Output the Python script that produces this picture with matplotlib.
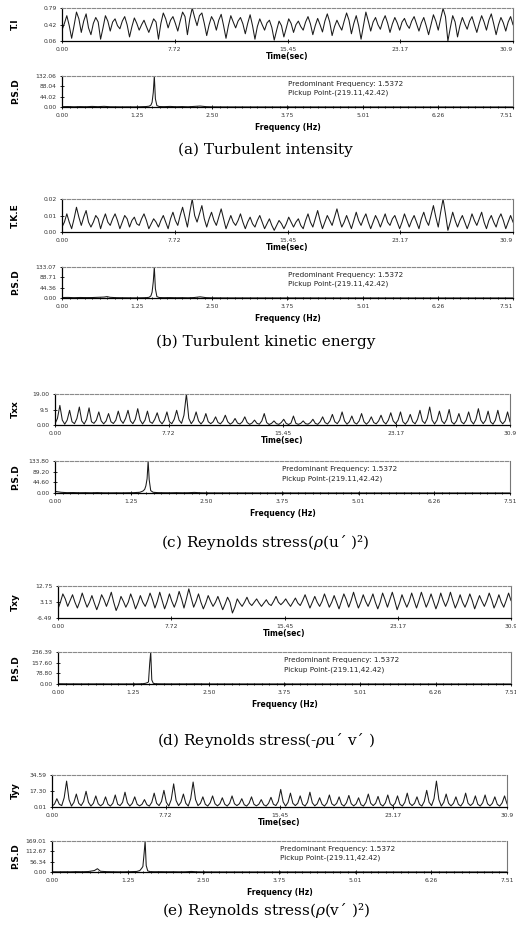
"""
Time series and power spectra at a pickup point: five quantities
(turbulent intensity, TKE and three Reynolds stresses), each with its P.S.D.
"""
import matplotlib.pyplot as plt
import numpy as np
from matplotlib.ticker import MultipleLocator

W, H = 516, 940
plt.rcParams['mathtext.fontset'] = 'dejavuserif'

# shared axes ticks
time_ticks = [0.00, 7.72, 15.45, 23.17, 30.9]
time_ticklabels = ["0.00", "7.72", "15.45", "23.17", "30.9"]
freq_ticks = [0.00, 1.25, 2.50, 3.75, 5.01, 6.26, 7.51]
freq_ticklabels = ["0.00", "1.25", "2.50", "3.75", "5.01", "6.26", "7.51"]

predominant_text = "Predominant Frequency: 1.5372"
pickup_text = "Pickup Point-(219.11,42.42)"

# time series (~4 samples per oscillation)
ti = [0.30, 0.45, 0.62, 0.40, 0.12, 0.40, 0.70, 0.55, 0.25, 0.50, 0.66, 0.35,
      0.20, 0.45, 0.58, 0.48, 0.10, 0.35, 0.62, 0.50, 0.28, 0.48, 0.55, 0.40,
      0.33, 0.50, 0.60, 0.42, 0.15, 0.38, 0.57, 0.45, 0.30, 0.42, 0.52, 0.38,
      0.25, 0.40, 0.55, 0.48, 0.10, 0.45, 0.68, 0.55, 0.35, 0.52, 0.60, 0.45,
      0.28, 0.50, 0.70, 0.60, 0.20, 0.55, 0.79, 0.58, 0.40, 0.62, 0.68, 0.45,
      0.18, 0.42, 0.60, 0.50, 0.30, 0.52, 0.65, 0.40, 0.12, 0.40, 0.62, 0.48,
      0.35, 0.50, 0.58, 0.44, 0.22, 0.45, 0.64, 0.40, 0.10, 0.38, 0.55, 0.42,
      0.30, 0.46, 0.52, 0.36, 0.08, 0.30, 0.50, 0.40, 0.15, 0.35, 0.55, 0.45,
      0.25, 0.42, 0.50, 0.38, 0.30, 0.48, 0.60, 0.44, 0.20, 0.40, 0.56, 0.42,
      0.26, 0.50, 0.66, 0.48, 0.18, 0.38, 0.52, 0.40, 0.30, 0.50, 0.68, 0.52,
      0.22, 0.45, 0.62, 0.40, 0.10, 0.40, 0.70, 0.50, 0.28, 0.48, 0.58, 0.42,
      0.32, 0.50, 0.62, 0.46, 0.25, 0.44, 0.58, 0.46, 0.30, 0.48, 0.56, 0.42,
      0.34, 0.50, 0.60, 0.44, 0.28, 0.46, 0.58, 0.40, 0.20, 0.42, 0.64, 0.50,
      0.30, 0.55, 0.78, 0.60, 0.06, 0.35, 0.62, 0.48, 0.15, 0.40, 0.58, 0.44,
      0.32, 0.50, 0.60, 0.42, 0.25, 0.45, 0.62, 0.48, 0.30, 0.52, 0.66, 0.44,
      0.20, 0.42, 0.58, 0.46, 0.28, 0.48, 0.60, 0.42]

tke = [.003, .006, .011, .006, .002, .008, .015, .009, .004, .009, .013, .006,
       .003, .006, .010, .008, .002, .007, .011, .006, .004, .008, .011, .007,
       .002, .006, .010, .008, .003, .007, .009, .005, .004, .008, .011, .007,
       .002, .005, .008, .006, .003, .007, .010, .006, .002, .008, .012, .007,
       .004, .010, .015, .009, .003, .012, .020, .010, .006, .011, .016, .008,
       .003, .008, .012, .007, .004, .009, .014, .008, .002, .006, .010, .006,
       .004, .007, .011, .006, .002, .006, .009, .005, .003, .007, .010, .006,
       .002, .005, .008, .004, .001, .004, .007, .005, .002, .005, .009, .006,
       .003, .006, .008, .004, .002, .007, .011, .006, .003, .008, .013, .007,
       .002, .006, .010, .007, .004, .009, .014, .008, .003, .006, .010, .006,
       .002, .007, .012, .007, .004, .008, .011, .006, .002, .006, .010, .007,
       .003, .007, .011, .006, .004, .008, .010, .006, .002, .006, .011, .007,
       .003, .007, .010, .006, .002, .008, .012, .007, .004, .010, .016, .009,
       .003, .012, .020, .011, .001, .006, .012, .007, .003, .007, .010, .006,
       .002, .006, .011, .007, .004, .008, .012, .006, .002, .007, .010, .006,
       .003, .008, .011, .007, .002, .006, .010, .006]

txx = [0.8, 4.0, 12.0, 3.0, 0.5, 3.0, 9.0, 2.0, 0.8, 4.0, 11.0, 2.5,
       0.6, 3.5, 10.5, 2.0, 1.0, 3.0, 8.0, 2.5, 0.7, 2.5, 7.0, 2.0,
       0.9, 3.0, 8.5, 3.0, 1.0, 4.0, 9.0, 2.5, 0.8, 3.5, 10.0, 3.0,
       0.6, 3.0, 8.5, 2.0, 1.0, 3.5, 7.5, 2.5, 0.7, 3.0, 8.0, 2.0,
       0.8, 3.5, 9.0, 3.0, 1.0, 6.0, 19.0, 4.0, 0.8, 3.0, 8.0, 2.5,
       0.6, 2.5, 7.0, 2.0, 0.8, 2.0, 5.0, 1.5, 0.7, 2.5, 6.0, 2.0,
       0.5, 1.5, 4.0, 1.2, 0.6, 2.0, 5.0, 1.5, 0.4, 1.2, 3.0, 1.0,
       0.5, 2.5, 7.0, 1.5, 0.3, 1.0, 2.5, 0.8, 0.4, 1.5, 3.5, 1.0,
       0.3, 1.2, 5.5, 1.0, 0.4, 1.0, 2.5, 0.8, 0.5, 1.5, 3.5, 1.0,
       0.4, 2.0, 5.0, 1.5, 0.6, 2.5, 6.5, 2.0, 0.8, 3.0, 8.0, 2.5,
       0.5, 2.0, 5.5, 1.5, 0.6, 2.5, 7.0, 2.0, 0.5, 2.0, 5.0, 1.5,
       0.7, 2.5, 6.0, 2.0, 0.6, 3.0, 7.5, 2.5, 0.8, 3.0, 8.0, 2.0,
       0.5, 2.5, 6.5, 2.0, 0.7, 3.5, 9.0, 2.5, 0.9, 4.0, 11.0, 3.0,
       0.6, 3.0, 8.5, 2.5, 0.8, 3.5, 9.5, 2.0, 0.5, 2.5, 7.0, 2.0,
       0.7, 3.0, 8.0, 2.5, 0.6, 3.5, 10.0, 3.0, 0.8, 3.0, 8.5, 2.0,
       0.5, 3.0, 9.0, 2.5, 0.7, 2.5, 8.0, 2.0]

txy = [-1.0, 3.0, 8.0, 5.0, 0.5, 4.0, 7.5, 3.0, -0.5, 3.5, 8.5, 4.0,
       0.0, 3.0, 7.0, 2.5, -1.5, 2.5, 7.5, 4.5, 0.5, 4.5, 9.0, 3.0,
       -2.0, 1.5, 6.5, 3.5, 0.0, 3.0, 8.0, 4.0, -1.0, 2.5, 7.0, 3.0,
       0.5, 4.0, 8.5, 4.5, -0.5, 3.5, 9.0, 4.0, -1.0, 3.0, 8.0, 3.5,
       0.0, 4.0, 9.5, 5.0, -0.5, 5.0, 11.0, 5.5, 0.0, 3.5, 8.0, 3.0,
       -1.0, 2.5, 7.0, 3.5, 0.5, 3.0, 6.5, 2.5, -1.5, 2.0, 6.0, 3.0,
       -3.5, 0.0, 5.0, 2.5, 0.5, 3.0, 6.0, 2.5, 1.0, 3.0, 5.0, 2.5,
       0.5, 2.5, 4.5, 2.0, 1.0, 3.5, 6.5, 3.0, 1.5, 3.0, 5.0, 2.5,
       0.5, 3.0, 5.5, 2.5, 1.0, 4.0, 7.5, 3.5, -0.5, 3.0, 6.5, 3.0,
       0.5, 3.5, 8.0, 4.0, 0.0, 3.0, 7.0, 3.0, -1.0, 3.5, 8.0, 4.5,
       0.0, 4.0, 9.0, 4.0, -0.5, 3.0, 7.5, 3.5, 0.5, 4.0, 8.0, 3.0,
       -1.0, 3.0, 8.5, 4.5, 0.0, 4.5, 9.0, 4.0, -1.5, 2.5, 7.5, 3.5,
       0.0, 3.5, 8.5, 4.0, -0.5, 4.0, 9.0, 4.5, 0.0, 3.5, 8.0, 3.5,
       -1.0, 3.0, 8.5, 4.0, 0.5, 4.0, 9.0, 4.0, -0.5, 3.0, 7.5, 3.0,
       0.0, 3.5, 8.0, 4.0, -1.0, 3.0, 7.0, 3.5, 0.5, 4.0, 8.5, 4.5,
       -0.5, 3.0, 7.5, 3.0, 0.0, 4.0, 8.5, 4.0]

tyy = [1.0, 3.0, 9.0, 3.0, 1.5, 10.0, 28.0, 8.0, 1.0, 5.0, 14.0, 4.0,
       1.5, 6.0, 17.0, 5.0, 1.0, 4.0, 12.0, 3.5, 1.2, 3.5, 11.0, 3.0,
       1.0, 4.0, 13.0, 3.0, 1.5, 5.0, 16.0, 4.5, 1.0, 4.0, 11.0, 3.0,
       1.2, 3.0, 8.0, 2.5, 1.0, 5.0, 15.0, 4.0, 1.5, 6.0, 18.0, 5.0,
       1.0, 8.0, 25.0, 7.0, 1.5, 5.0, 14.0, 4.0, 1.0, 9.0, 27.0, 8.0,
       1.5, 4.0, 11.0, 3.0, 1.0, 4.5, 12.0, 3.5, 1.2, 3.5, 10.0, 3.0,
       1.0, 4.0, 12.0, 3.5, 1.5, 3.5, 9.0, 2.5, 1.0, 4.0, 11.0, 3.0,
       1.2, 3.0, 8.0, 2.5, 1.0, 4.0, 10.5, 3.0, 1.5, 6.0, 19.0, 5.5,
       1.0, 5.0, 15.0, 4.0, 1.5, 4.0, 12.0, 3.0, 1.0, 5.0, 16.0, 4.5,
       1.2, 3.5, 10.0, 3.0, 1.0, 4.5, 13.0, 3.5, 1.5, 4.0, 11.0, 3.0,
       1.0, 4.5, 12.5, 3.5, 1.2, 3.5, 10.0, 2.5, 1.0, 5.0, 14.0, 4.0,
       1.5, 4.0, 11.5, 3.0, 1.0, 4.5, 13.0, 3.5, 1.2, 4.0, 12.0, 3.0,
       1.0, 5.0, 15.0, 4.0, 1.5, 4.0, 11.0, 3.0, 1.0, 6.0, 18.0, 5.0,
       1.5, 9.0, 28.0, 8.0, 1.0, 5.0, 14.0, 4.0, 1.2, 4.0, 11.0, 3.0,
       1.0, 5.0, 15.0, 4.0, 1.5, 4.0, 12.0, 3.0, 1.0, 4.5, 13.0, 3.5,
       1.2, 4.0, 11.0, 3.0, 1.0, 4.5, 12.0, 3.5]

# power spectral density, sampled densely only around the peak
psd_freq = [0.00, 0.10, 0.20, 0.30, 0.40, 0.50, 0.60, 0.70, 0.75, 0.80, 0.90,
            1.00, 1.10, 1.20, 1.30, 1.40, 1.45, 1.48, 1.50, 1.52, 1.5372,
            1.555, 1.58, 1.62, 1.70, 1.80, 1.90, 2.00, 2.10, 2.20, 2.30, 2.40,
            2.50, 2.75, 3.00, 3.50, 4.00, 4.50, 5.00, 5.50, 6.00, 6.50, 7.00,
            7.51]
psd_ti = [1.5, 2.0, 1.0, 1.8, 1.2, 2.5, 1.5, 2.8, 2.0, 1.2, 1.0,
          0.8, 1.0, 0.6, 1.2, 2.0, 3.5, 8.0, 20.0, 62.0, 132.06,
          35.0, 6.0, 2.0, 1.5, 2.5, 1.2, 1.8, 1.0, 2.5, 4.0, 1.5,
          0.8, 0.5, 0.4, 0.3, 0.3, 0.2, 0.2, 0.2, 0.1, 0.1, 0.1, 0.1]
psd_tke = [2.0, 2.5, 1.5, 2.2, 1.8, 2.0, 3.0, 4.0, 6.0, 3.0, 1.5,
           1.2, 1.0, 0.8, 1.0, 1.5, 3.0, 9.0, 25.0, 70.0, 133.07,
           40.0, 6.0, 2.0, 1.5, 1.8, 1.2, 1.5, 1.0, 2.0, 5.0, 1.5,
           0.8, 0.5, 0.4, 0.3, 0.3, 0.2, 0.2, 0.2, 0.1, 0.1, 0.1, 0.1]
psd_txx = [7.0, 3.0, 1.5, 2.0, 1.2, 1.5, 1.0, 1.8, 1.2, 1.0, 0.8,
           1.0, 0.8, 1.2, 1.5, 3.0, 8.0, 15.0, 30.0, 60.0, 133.80,
           55.0, 10.0, 3.0, 1.5, 1.2, 1.0, 1.5, 1.0, 1.2, 2.5, 1.0,
           0.6, 0.5, 0.4, 0.3, 0.3, 0.2, 0.2, 0.2, 0.1, 0.1, 0.1, 0.1]
psd_txy = [2.0, 1.5, 1.0, 1.2, 0.8, 1.0, 0.8, 1.2, 1.0, 0.8, 0.6,
           0.8, 0.6, 0.8, 1.0, 2.0, 5.0, 10.0, 15.0, 150.0, 236.39,
           30.0, 5.0, 2.0, 1.2, 1.0, 0.8, 1.0, 0.8, 1.0, 1.5, 0.8,
           0.6, 0.5, 0.4, 0.3, 0.3, 0.2, 0.2, 0.2, 0.1, 0.1, 0.1, 0.1]
psd_tyy = [1.5, 1.0, 1.5, 1.2, 2.0, 1.5, 2.5, 8.0, 18.0, 4.0, 2.0,
           1.5, 1.0, 1.2, 2.0, 3.0, 8.0, 20.0, 30.0, 100.0, 169.01,
           35.0, 6.0, 2.0, 1.5, 1.8, 1.2, 1.5, 1.0, 1.2, 3.0, 1.0,
           0.6, 0.5, 0.4, 0.3, 0.3, 0.2, 0.2, 0.2, 0.1, 0.1, 0.1, 0.1]

# y ticks per panel
ti_yticks, ti_ylabels = [0.06, 0.42, 0.79], ["0.06", "0.42", "0.79"]
tke_yticks, tke_ylabels = [0.00, 0.01, 0.02], ["0.00", "0.01", "0.02"]
txx_yticks, txx_ylabels = [0.00, 9.5, 19.00], ["0.00", "9.5", "19.00"]
txy_yticks, txy_ylabels = [-6.49, 3.13, 12.75], ["-6.49", "3.13", "12.75"]
tyy_yticks, tyy_ylabels = [0.01, 17.30, 34.59], ["0.01", "17.30", "34.59"]
psd_ti_ticks = [0.00, 44.02, 88.04, 132.06]
psd_tke_ticks = [0.00, 44.36, 88.71, 133.07]
psd_txx_ticks = [0.00, 44.60, 89.20, 133.80]
psd_txy_ticks = [0.00, 78.80, 157.60, 236.39]
psd_tyy_ticks = [0.00, 56.34, 112.67, 169.01]

captions = ["(a) Turbulent intensity",
            "(b) Turbulent kinetic energy",
            "(c) Reynolds stress($\\rho$(u\u00b4 )\u00b2)",
            "(d) Reynolds stress(-$\\rho$u\u00b4 v\u00b4 )",
            "(e) Reynolds stress($\\rho$(v\u00b4 )\u00b2)"]
ts_names = ["T.I", "T.K.E", "Txx", "Txy", "Tyy"]

series = [ti, tke, txx, txy, tyy]
ts_ticks = [(ti_yticks, ti_ylabels), (tke_yticks, tke_ylabels),
            (txx_yticks, txx_ylabels), (txy_yticks, txy_ylabels),
            (tyy_yticks, tyy_ylabels)]
psds = [psd_ti, psd_tke, psd_txx, psd_txy, psd_tyy]
psd_ticks = [psd_ti_ticks, psd_tke_ticks, psd_txx_ticks, psd_txy_ticks,
             psd_tyy_ticks]

# pixel boxes (x0, x1, ts_top, ts_bottom, psd_top, psd_bottom, caption_y)
boxes = [(62, 513, 8, 41, 76, 107, 150),
         (62, 513, 199, 232, 267, 298, 342),
         (55, 510, 394, 425, 461, 493, 543),
         (58, 511, 586, 618, 652, 684, 740),
         (52, 507, 775, 807, 841, 872, 910)]


def rect(x0, x1, top, bottom):
    return [x0 / W, 1 - bottom / H, (x1 - x0) / W, (bottom - top) / H]


def style(ax):
    ax.spines['top'].set_color('#8a8a8a')
    ax.spines['top'].set_linestyle((0, (3, 1.5)))
    ax.spines['top'].set_linewidth(0.8)
    ax.spines['right'].set_color('#777777')
    ax.spines['right'].set_linewidth(0.8)
    ax.spines['left'].set_linewidth(0.9)
    ax.spines['bottom'].set_linewidth(0.9)
    ax.tick_params(which='both', direction='inout', labelsize=4.3,
                   labelcolor='#333333', width=0.6, pad=2.5)
    ax.tick_params(which='major', length=3)
    ax.tick_params(which='minor', length=2)


def keep_last_label_inside(ax, x1):
    # the last tick label would run past the right edge of the figure
    if x1 > 511:
        ax.get_xticklabels()[-1].set_horizontalalignment('right')


fig = plt.figure(figsize=(W / 100, H / 100), dpi=100)

for i in range(5):
    x0, x1, t0, t1, p0, p1, cy = boxes[i]
    vals = series[i]
    t = np.linspace(0, 30.9, len(vals))

    ax = fig.add_axes(rect(x0, x1, t0, t1))
    ax.plot(t, vals, color='#1a1a1a', lw=0.75)
    yt, yl = ts_ticks[i]
    ax.set_xlim(0, 30.9)
    ax.set_ylim(yt[0], yt[-1])
    ax.set_yticks(yt)
    ax.set_yticklabels(yl)
    ax.set_xticks(time_ticks)
    ax.set_xticklabels(time_ticklabels)
    style(ax)
    keep_last_label_inside(ax, x1)
    ax.set_xlabel("Time(sec)", fontsize=5.5, fontweight='bold', labelpad=0.5)
    ax.set_ylabel(ts_names[i], fontsize=6.5, fontweight='bold')
    ax.yaxis.set_label_coords((20 - x0) / (x1 - x0), 0.5)

    pax = fig.add_axes(rect(x0, x1, p0, p1))
    pax.plot(psd_freq, psds[i], color='#1a1a1a', lw=0.75)
    pt = psd_ticks[i]
    pax.set_xlim(0, 7.51)
    pax.set_ylim(0, pt[-1])
    pax.set_yticks(pt)
    pax.set_yticklabels([f"{v:.2f}" for v in pt])
    pax.set_xticks(freq_ticks)
    pax.set_xticklabels(freq_ticklabels)
    pax.xaxis.set_minor_locator(MultipleLocator(7.51 / 60))
    style(pax)
    keep_last_label_inside(pax, x1)
    pax.set_xlabel("Frequency (Hz)", fontsize=5.5, fontweight='bold',
                   labelpad=4)
    pax.set_ylabel("P.S.D", fontsize=6.5, fontweight='bold')
    pax.yaxis.set_label_coords((20 - x0) / (x1 - x0), 0.5)
    pax.text(0.50, 0.74, predominant_text, transform=pax.transAxes,
             fontsize=5.2, va='center', color='#222222')
    pax.text(0.50, 0.45, pickup_text, transform=pax.transAxes,
             fontsize=5.2, va='center', color='#222222')

    fig.text(0.515, 1 - cy / H, captions[i], ha='center', va='center',
             fontsize=11, family=['DejaVu Serif'])

fig.savefig("out.png", dpi=100)
